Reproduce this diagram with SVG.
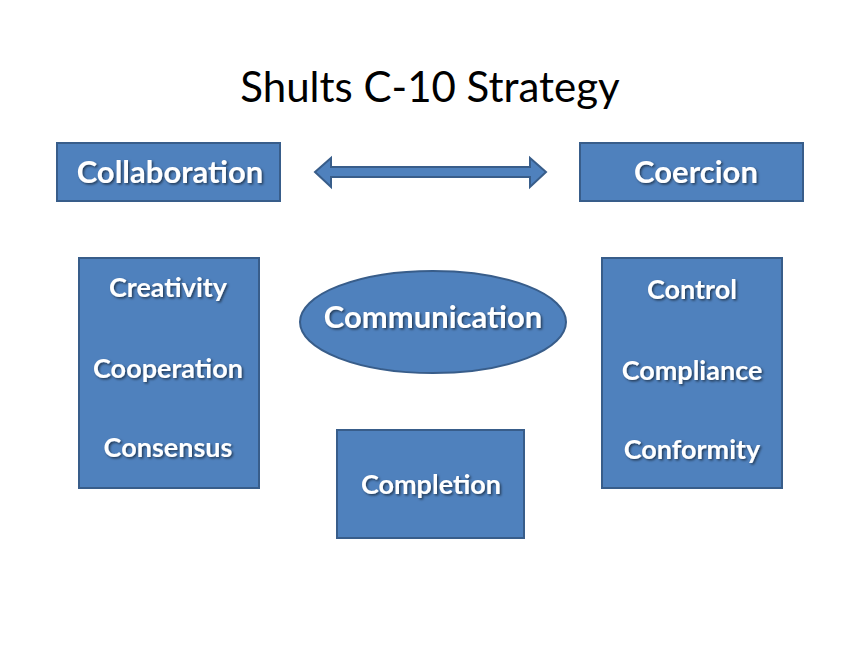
<svg xmlns="http://www.w3.org/2000/svg" width="860" height="645" viewBox="0 0 860 645">
<defs>
<filter id="sh" x="-10%" y="-10%" width="120%" height="130%"><feDropShadow dx="1.5" dy="1.5" stdDeviation="0.8" flood-color="#000" flood-opacity="0.55"/></filter>
</defs>
<style>
.b{fill:#4F81BD;stroke:#385D8A;stroke-width:2}
.t{fill:#fff;font-family:Lato,"Open Sans",sans-serif;font-weight:bold;text-anchor:middle;font-size:27px;filter:url(#sh)}
.h{font-size:31px}
</style>
<rect width="860" height="645" fill="#fff"/>
<text x="430" y="102" text-anchor="middle" font-family="Lato,'Open Sans',sans-serif" font-size="42" fill="#000">Shults C-10 Strategy</text>
<g id="connectors">
<path class="b" d="M315,172 L331,158 L331,167 L530,167 L530,158 L546,172 L530,187 L530,177 L331,177 L331,187 Z"/>
</g>
<g id="collaboration"><rect class="b" x="57" y="143" width="223" height="58"/><text class="t h" x="170" y="183">Collaboration</text></g>
<g id="coercion"><rect class="b" x="580" y="143" width="223" height="58"/><text class="t h" x="696" y="183">Coercion</text></g>
<g id="left"><rect class="b" x="79" y="258" width="180" height="230"/>
<text class="t" x="168" y="297">Creativity</text><text class="t" x="168" y="378">Cooperation</text><text class="t" x="168" y="457">Consensus</text></g>
<g id="communication"><ellipse class="b" cx="433" cy="322" rx="133" ry="51"/><text class="t h" x="433" y="328">Communication</text></g>
<g id="right"><rect class="b" x="602" y="258" width="180" height="230"/>
<text class="t" x="692" y="299">Control</text><text class="t" x="692" y="380">Compliance</text><text class="t" x="692" y="459">Conformity</text></g>
<g id="completion"><rect class="b" x="337" y="430" width="187" height="108"/><text class="t" x="431" y="494">Completion</text></g>
</svg>
